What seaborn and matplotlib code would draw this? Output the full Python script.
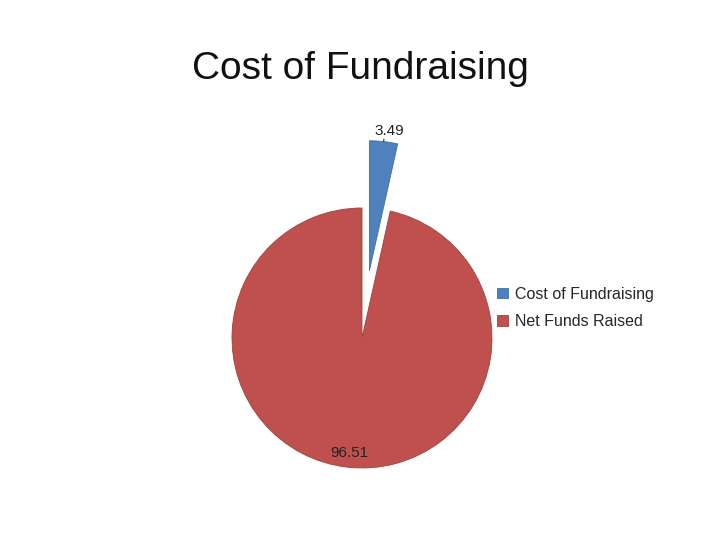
import matplotlib
matplotlib.use("Agg")
import matplotlib.pyplot as plt
import seaborn as sns
import numpy as np

# data
categories = ["Cost of Fundraising", "Net Funds Raised"]
values = [3.49, 96.51]
colors = ["#4F81BD", "#C0504D"]
explode = [0.52, 0.0]

sns.set_theme(style="white")
plt.rcParams['font.family'] = ['Liberation Sans', 'DejaVu Sans']

fig = plt.figure(figsize=(7.2, 5.4), dpi=100)
fig.patch.set_facecolor("white")

# pie centre at ~(362, 338) px, radius ~130 px
span = 1.1
w_px = 2 * span * 130
ax = fig.add_axes([362 / 720 - w_px / 720 / 2, (540 - 338) / 540 - w_px / 540 / 2,
                   w_px / 720, w_px / 540])

wedges, texts, autotexts = ax.pie(
    values, colors=colors, explode=explode, startangle=90, counterclock=False,
    autopct=lambda p: f"{p:.2f}", radius=1.0,
    wedgeprops=dict(linewidth=0.6, edgecolor="#a04040"),
    textprops=dict(fontsize=11, color="#222222"))
wedges[0].set_edgecolor("#3e6ea8")
for wd in wedges:
    wd.set_clip_on(False)
ax.set_xlim(-span, span)
ax.set_ylim(-span, span)
ax.set_aspect("equal")
ax.axis("off")

# label placement
for wd, t, ex, dist in zip(wedges, autotexts, explode, [1.06, 0.88]):
    mid = np.deg2rad((wd.theta1 + wd.theta2) / 2)
    cx, cy = wd.center
    t.set_position((cx + dist * np.cos(mid) + (0.035 if ex else 0), cy + dist * np.sin(mid) + (0.02 if ex else -0.01)))
    t.set_ha("center")
    t.set_va("center")
    t.set_clip_on(False)

# small leader line for the small slice
wd = wedges[0]
mid = np.deg2rad((wd.theta1 + wd.theta2) / 2)
cx, cy = wd.center
ax.annotate("", xy=(cx + 1.0 * np.cos(mid), cy + 1.0 * np.sin(mid)),
            xytext=(cx + 1.04 * np.cos(mid), cy + 1.04 * np.sin(mid)),
            arrowprops=dict(arrowstyle="-", color="#333333", lw=0.8),
            annotation_clip=False)

fig.text(360 / 720, 1 - 69 / 540, "Cost of Fundraising", ha="center", va="center",
         fontsize=28, color="#111111")

fig.legend(wedges, categories, loc="center left", bbox_to_anchor=(483 / 720, 1 - 308 / 540),
           frameon=False, fontsize=11.5, handlelength=0.65, handleheight=0.65,
           handletextpad=0.45, labelspacing=0.8)

fig.savefig("out.png", dpi=100, facecolor="white")
